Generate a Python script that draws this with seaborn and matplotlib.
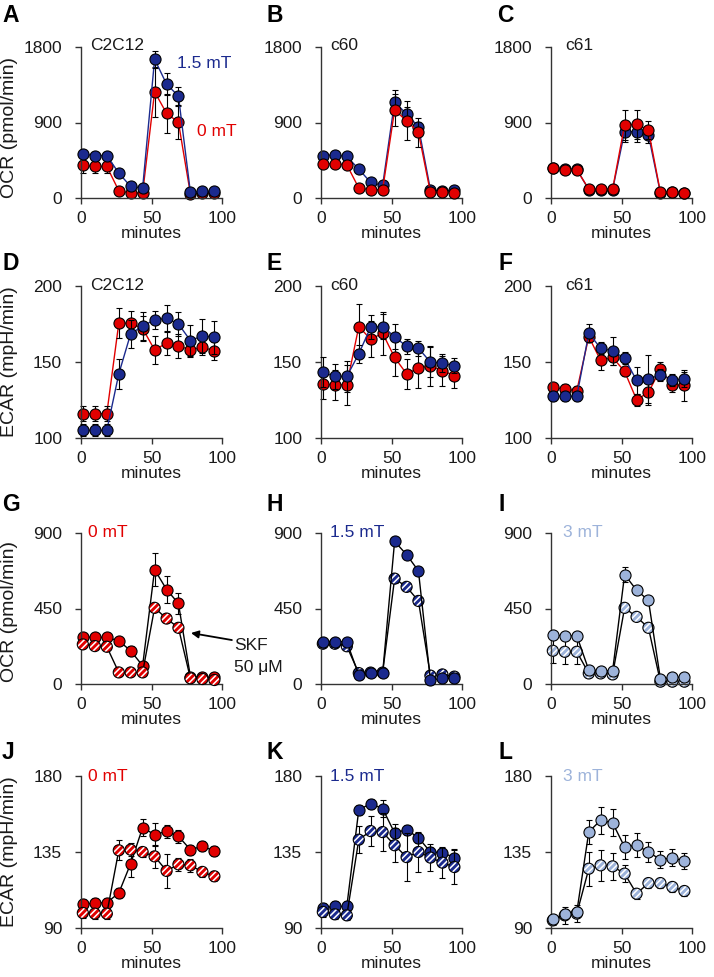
import matplotlib
matplotlib.use("Agg")
import matplotlib.pyplot as plt
from matplotlib.path import Path
from matplotlib.markers import MarkerStyle
import numpy as np
import pandas as pd
import seaborn as sns

# ---------------- data ----------------
minutes = [1.3, 9.8, 18.3, 26.8, 35.2, 43.7, 52.2, 60.7, 69.1, 77.6, 86.1, 94.6]

# Row 1: OCR (pmol/min); red = 0 mT, blue = 1.5 mT
ocr_c2c12_0 = [388, 376, 376, 87, 59, 59, 1266, 1009, 902, 50, 60, 60]
ocr_c2c12_0_err = [90, 80, 80, 30, 20, 20, 300, 230, 200, 15, 15, 15]
ocr_c2c12_15 = [522, 506, 506, 297, 138, 119, 1654, 1357, 1215, 67, 79, 79]
ocr_c2c12_15_err = [40, 40, 40, 40, 30, 30, 100, 130, 110, 20, 20, 20]

ocr_c60_0 = [408, 408, 396, 119, 99, 99, 1048, 921, 783, 67, 71, 59]
ocr_c60_0_err = [40, 40, 40, 20, 20, 20, 190, 230, 170, 20, 20, 20]
ocr_c60_15 = [506, 514, 495, 344, 186, 150, 1147, 1000, 850, 99, 79, 99]
ocr_c60_15_err = [40, 40, 40, 30, 30, 30, 140, 80, 60, 20, 20, 20]

ocr_c61_0 = [356, 336, 336, 107, 107, 107, 870, 878, 811, 67, 71, 59]
ocr_c61_0_err = [30, 30, 30, 20, 20, 20, 180, 170, 110, 15, 15, 15]
ocr_c61_15 = [360, 340, 340, 100, 100, 100, 791, 791, 752, 60, 70, 60]
ocr_c61_15_err = [30, 30, 30, 20, 20, 20, 120, 120, 100, 15, 15, 15]

# Row 2: ECAR (mpH/min)
ecar_c2c12_0 = [116, 116, 116, 175.5, 175.5, 172, 158, 162.4, 160.6, 158, 159.7, 157.3]
ecar_c2c12_0_err = [5, 5, 5, 10, 8, 8, 9, 8, 8, 5, 5, 6]
ecar_c2c12_15 = [105, 105, 105, 142.2, 168.5, 173.7, 177.7, 178.8, 175, 164.1, 167.2, 166.3]
ecar_c2c12_15_err = [4, 4, 4, 10, 9, 9, 6, 9, 8, 10, 11, 11]

ecar_c60_0 = [135.4, 135, 135, 173.3, 165, 168.9, 153, 142.2, 146, 147.5, 144.2, 141.1]
ecar_c60_0_err = [10, 10, 13, 15, 12, 14, 12, 10, 13, 13, 10, 8]
ecar_c60_15 = [143.3, 140.5, 140.5, 155.4, 172.9, 173.3, 166.7, 160.2, 159.1, 149.9, 149.2, 147.5]
ecar_c60_15_err = [10, 8, 10, 6, 8, 8, 8, 5, 5, 10, 6, 5]

ecar_c61_0 = [133.3, 132.2, 131.1, 166.7, 151, 153, 143.8, 125.2, 130, 145.3, 135, 134.6]
ecar_c61_0_err = [3, 3, 3, 3, 6, 5, 3, 4, 8, 5, 5, 10]
ecar_c61_15 = [127.4, 127.4, 127.4, 168.9, 159.1, 157.3, 152.5, 137.9, 138.7, 141.6, 138.3, 138.7]
ecar_c61_15_err = [3, 3, 3, 6, 4, 9, 4, 9, 16, 4, 4, 5]

# Row 3: OCR, solid = control, hatched = SKF 50 uM
ocr_0mT = [281, 277.5, 277.5, 257.7, 198, 109, 682, 563, 480, 43.6, 39.6, 39.6]
ocr_0mT_err = [15, 15, 15, 15, 30, 20, 100, 80, 60, 10, 10, 10]
ocr_0mT_skf = [236, 226, 222, 69, 69, 69, 454, 390, 335, 33.7, 29.7, 23.8]
ocr_0mT_skf_err = [10, 10, 10, 10, 10, 10, 20, 20, 20, 10, 10, 10]

ocr_15mT = [252, 252, 252, 53.5, 63.4, 63.4, 850, 771, 674, 23.8, 33.7, 33.7]
ocr_15mT_err = [15, 15, 15, 10, 10, 10, 15, 25, 25, 10, 10, 10]
ocr_15mT_skf = [240, 240, 225, 65, 68, 68, 628, 579, 495, 50, 57, 44]
ocr_15mT_skf_err = [15, 15, 15, 10, 10, 10, 25, 25, 20, 10, 10, 10]

ocr_3mT = [291, 287, 287, 83, 79, 79, 652, 559, 499, 30, 40, 40]
ocr_3mT_err = [20, 20, 20, 10, 10, 10, 45, 20, 15, 10, 10, 10]
ocr_3mT_skf = [198, 192, 192, 63, 63, 57, 454, 400, 335, 14, 14, 14]
ocr_3mT_skf_err = [70, 70, 70, 15, 15, 15, 20, 20, 20, 10, 10, 10]

# Row 4: ECAR
ecar_0mT = [104, 104.8, 105, 110.7, 128.1, 149.4, 145.3, 147.2, 144.3, 136.4, 138.4, 135.6]
ecar_0mT_err = [3, 3, 3, 3, 8, 5, 7, 4, 4, 3, 3, 3]
ecar_0mT_skf = [98.9, 98.5, 98.5, 136, 136.4, 135, 132.4, 123.8, 127.7, 127.1, 123.2, 120.6]
ecar_0mT_skf_err = [3, 3, 3, 6, 4, 3, 7, 10, 4, 4, 3, 3]

ecar_15mT = [102, 102.8, 102.8, 160, 163.6, 160.7, 146.3, 148.2, 143.5, 135, 134.6, 131.7]
ecar_15mT_err = [3, 3, 3, 3, 3, 5, 5, 3, 3, 3, 3, 5]
ecar_15mT_skf = [99.5, 98.1, 97.5, 142.3, 147.4, 146.8, 139, 132, 135, 131.7, 128.7, 126.1]
ecar_15mT_skf_err = [3, 3, 3, 8, 9, 11, 10, 14, 12, 8, 9, 10]

ecar_3mT = [95.1, 98.5, 99.5, 146.9, 153.8, 152.2, 138, 139, 135, 130.5, 131.5, 129.7]
ecar_3mT_err = [2, 3, 3, 7, 8, 8, 7, 7, 6, 5, 5, 5]
ecar_3mT_skf = [94.5, 97.5, 98.5, 125.1, 127.1, 126.5, 122.2, 110.3, 116.6, 116.6, 114.3, 111.9]
ecar_3mT_skf_err = [3, 5, 5, 10, 9, 8, 5, 3, 3, 3, 3, 3]

x_ticks = [0, 50, 100]
ocr_ticks_1 = [0, 900, 1800]
ecar_ticks_1 = [100, 150, 200]
ocr_ticks_2 = [0, 450, 900]
ecar_ticks_2 = [90, 135, 180]

# ---------------- style ----------------
RED = "#E10000"
NAVY = "#1B2A8E"
LIGHT = "#9DB3DA"
SPINE = "#333333"

sns.set_theme(style="ticks")
plt.rcParams["font.family"] = ["Liberation Sans", "DejaVu Sans"]

W, H = 714, 977
fig = plt.figure(figsize=(W / 100, H / 100), dpi=100)
col_left = [81, 321, 551]
ax_w = 141
rows = [(47, 198), (286, 438), (533, 684), (776, 928)]

MS = 64


# ---- striped ("hatched") circle marker: diagonal bands clipped to a unit circle
def _clip_half(poly, n, c):
    out = []
    L = len(poly)
    for i in range(L):
        p, q = poly[i], poly[(i + 1) % L]
        dp, dq = p @ n - c, q @ n - c
        if dp <= 0:
            out.append(p)
        if dp * dq < 0:
            t = dp / (dp - dq)
            out.append(p + t * (q - p))
    return np.array(out)


def _stripe_marker(period=0.8, half_width=0.26):
    th = np.linspace(0, 2 * np.pi, 160, endpoint=False)
    circ = np.column_stack([np.cos(th), np.sin(th)])
    nv = np.array([1.0, -1.0]) / np.sqrt(2)
    verts, codes = [], []
    for k in range(-2, 3):
        c0 = k * period
        poly = _clip_half(circ, nv, c0 + half_width)
        if len(poly) < 3:
            continue
        poly = _clip_half(poly, -nv, -(c0 - half_width))
        if len(poly) < 3:
            continue
        verts.extend(poly.tolist())
        verts.append(poly[0].tolist())
        codes.extend([Path.MOVETO] + [Path.LINETO] * (len(poly) - 1) + [Path.CLOSEPOLY])
    for pt in [(1, 0), (-1, 0), (0, 1), (0, -1)]:
        verts += [pt, pt]
        codes += [Path.MOVETO, Path.LINETO]
    return MarkerStyle(Path(verts, codes))


STRIPES = _stripe_marker()


def make_ax(r, c):
    top, bot = rows[r]
    return fig.add_axes([col_left[c] / W, 1 - bot / H, ax_w / W, (bot - top) / H])


def draw_series(ax, vals, err, color, line_color, hatched, z):
    df = pd.DataFrame({"min": minutes, "val": vals})
    sns.lineplot(data=df, x="min", y="val", color=line_color, lw=1.0, ax=ax,
                 zorder=z, legend=False)
    ax.errorbar(minutes, vals, yerr=err, fmt="none", ecolor="black",
                elinewidth=0.8, capsize=2.2, capthick=0.8, zorder=z + 0.1,
                clip_on=False)
    if hatched:
        sns.scatterplot(data=df, x="min", y="val", s=MS, marker="o",
                        color="white", edgecolor="none", linewidth=0, ax=ax,
                        zorder=z + 0.2, clip_on=False, legend=False)
        sns.scatterplot(data=df, x="min", y="val", s=MS, marker=STRIPES,
                        color=color, edgecolor="none", linewidth=0, ax=ax,
                        zorder=z + 0.25, clip_on=False, legend=False)
        sns.scatterplot(data=df, x="min", y="val", s=MS, marker="o",
                        facecolor="none", edgecolor="black", linewidth=0.8,
                        ax=ax, zorder=z + 0.3, clip_on=False, legend=False)
    else:
        sns.scatterplot(data=df, x="min", y="val", s=MS, color=color,
                        edgecolor="black", linewidth=0.8, ax=ax,
                        zorder=z + 0.2, clip_on=False, legend=False)


def style_ax(ax, ylim, yticks, ylabel=None, ylab_y=0.5):
    ax.set_xlim(0, 100)
    ax.set_ylim(*ylim)
    ax.set_xticks(x_ticks)
    ax.set_yticks(yticks)
    sns.despine(ax=ax)
    for s in ["left", "bottom"]:
        ax.spines[s].set_color(SPINE)
        ax.spines[s].set_linewidth(1.0)
    ax.tick_params(axis="y", direction="out", length=4.5, width=1, color=SPINE,
                   labelsize=12.5, pad=9, labelcolor="#1a1a1a")
    ax.tick_params(axis="x", direction="out", length=4.5, width=1, color=SPINE,
                   labelsize=12.5, pad=5, labelcolor="#1a1a1a")
    ax.set_xlabel("minutes", fontsize=12.5, labelpad=0, color="#1a1a1a")
    if ylabel:
        ax.set_ylabel(ylabel, fontsize=14, color="#1a1a1a")
        ax.yaxis.set_label_coords(-0.445, ylab_y)
    else:
        ax.set_ylabel("")


panels = [
    # row, col, series (bottom->top), ylim, yticks, ylabel
    (0, 0, [(ocr_c2c12_0, ocr_c2c12_0_err, RED, RED, False),
            (ocr_c2c12_15, ocr_c2c12_15_err, NAVY, NAVY, False)],
     (0, 1800), ocr_ticks_1, "OCR (pmol/min)", 0.47),
    (0, 1, [(ocr_c60_15, ocr_c60_15_err, NAVY, NAVY, False),
            (ocr_c60_0, ocr_c60_0_err, RED, RED, False)],
     (0, 1800), ocr_ticks_1, None, 0.5),
    (0, 2, [(ocr_c61_15, ocr_c61_15_err, NAVY, NAVY, False),
            (ocr_c61_0, ocr_c61_0_err, RED, RED, False)],
     (0, 1800), ocr_ticks_1, None, 0.5),
    (1, 0, [(ecar_c2c12_0, ecar_c2c12_0_err, RED, RED, False),
            (ecar_c2c12_15, ecar_c2c12_15_err, NAVY, NAVY, False)],
     (100, 200), ecar_ticks_1, "ECAR (mpH/min)", 0.5),
    (1, 1, [(ecar_c60_0, ecar_c60_0_err, RED, RED, False),
            (ecar_c60_15, ecar_c60_15_err, NAVY, NAVY, False)],
     (100, 200), ecar_ticks_1, None, 0.5),
    (1, 2, [(ecar_c61_0, ecar_c61_0_err, RED, RED, False),
            (ecar_c61_15, ecar_c61_15_err, NAVY, NAVY, False)],
     (100, 200), ecar_ticks_1, None, 0.5),
    (2, 0, [(ocr_0mT, ocr_0mT_err, RED, "black", False),
            (ocr_0mT_skf, ocr_0mT_skf_err, RED, "black", True)],
     (0, 900), ocr_ticks_2, "OCR (pmol/min)", 0.48),
    (2, 1, [(ocr_15mT_skf, ocr_15mT_skf_err, NAVY, "black", True),
            (ocr_15mT, ocr_15mT_err, NAVY, "black", False)],
     (0, 900), ocr_ticks_2, None, 0.5),
    (2, 2, [(ocr_3mT_skf, ocr_3mT_skf_err, LIGHT, "black", True),
            (ocr_3mT, ocr_3mT_err, LIGHT, "black", False)],
     (0, 900), ocr_ticks_2, None, 0.5),
    (3, 0, [(ecar_0mT, ecar_0mT_err, RED, "black", False),
            (ecar_0mT_skf, ecar_0mT_skf_err, RED, "black", True)],
     (90, 180), ecar_ticks_2, "ECAR (mpH/min)", 0.5),
    (3, 1, [(ecar_15mT, ecar_15mT_err, NAVY, "black", False),
            (ecar_15mT_skf, ecar_15mT_skf_err, NAVY, "black", True)],
     (90, 180), ecar_ticks_2, None, 0.5),
    (3, 2, [(ecar_3mT_skf, ecar_3mT_skf_err, LIGHT, "black", True),
            (ecar_3mT, ecar_3mT_err, LIGHT, "black", False)],
     (90, 180), ecar_ticks_2, None, 0.5),
]

axes = {}
for r, c, series, ylim, yticks, ylabel, ly in panels:
    ax = make_ax(r, c)
    axes[(r, c)] = ax
    for i, (vals, err, color, lc, hat) in enumerate(series):
        draw_series(ax, vals, err, color, lc, hat, 2 + 2 * i)
    style_ax(ax, ylim, yticks, ylabel, ly)


def ftext(x, y, s, **kw):
    fig.text(x / W, 1 - y / H, s, va="baseline", **kw)


# panel letters
letters = [("A", 2, 22), ("B", 266, 22), ("C", 497, 22),
           ("D", 2, 270), ("E", 266, 270), ("F", 498, 270),
           ("G", 2, 511), ("H", 267, 511), ("I", 499, 511),
           ("J", 2, 759), ("K", 267, 759), ("L", 498, 759)]
for s, x, y in letters:
    ftext(x, y, s, fontsize=16.5, fontweight="bold", color="black")

# panel annotations
AF = 12.5
ftext(90, 50, "C2C12", fontsize=AF, color="#1a1a1a")
ftext(330, 50, "c60", fontsize=AF, color="#1a1a1a")
ftext(565, 50, "c61", fontsize=AF, color="#1a1a1a")
ftext(177, 68, "1.5 mT", fontsize=AF, color=NAVY)
ftext(197, 136, "0 mT", fontsize=AF, color=RED)
ftext(90, 290, "C2C12", fontsize=AF, color="#1a1a1a")
ftext(330, 290, "c60", fontsize=AF, color="#1a1a1a")
ftext(565, 290, "c61", fontsize=AF, color="#1a1a1a")
ftext(88, 537, "0 mT", fontsize=AF, color=RED)
ftext(330, 537, "1.5 mT", fontsize=AF, color=NAVY)
ftext(563, 537, "3 mT", fontsize=AF, color=LIGHT)
ftext(88, 781, "0 mT", fontsize=AF, color=RED)
ftext(330, 781, "1.5 mT", fontsize=AF, color=NAVY)
ftext(563, 781, "3 mT", fontsize=AF, color=LIGHT)

# SKF annotation
ftext(234, 650, "SKF", fontsize=12.5, color="#1a1a1a")
ftext(234, 672, "50 μM", fontsize=12.5, color="#1a1a1a")
axG = axes[(2, 0)]
axG.annotate("", xy=(78, 304), xytext=(107, 262),
             arrowprops=dict(arrowstyle="-|>", color="black", lw=1.3,
                             mutation_scale=11, shrinkA=0, shrinkB=0),
             annotation_clip=False)

fig.savefig("out.png", dpi=100)
